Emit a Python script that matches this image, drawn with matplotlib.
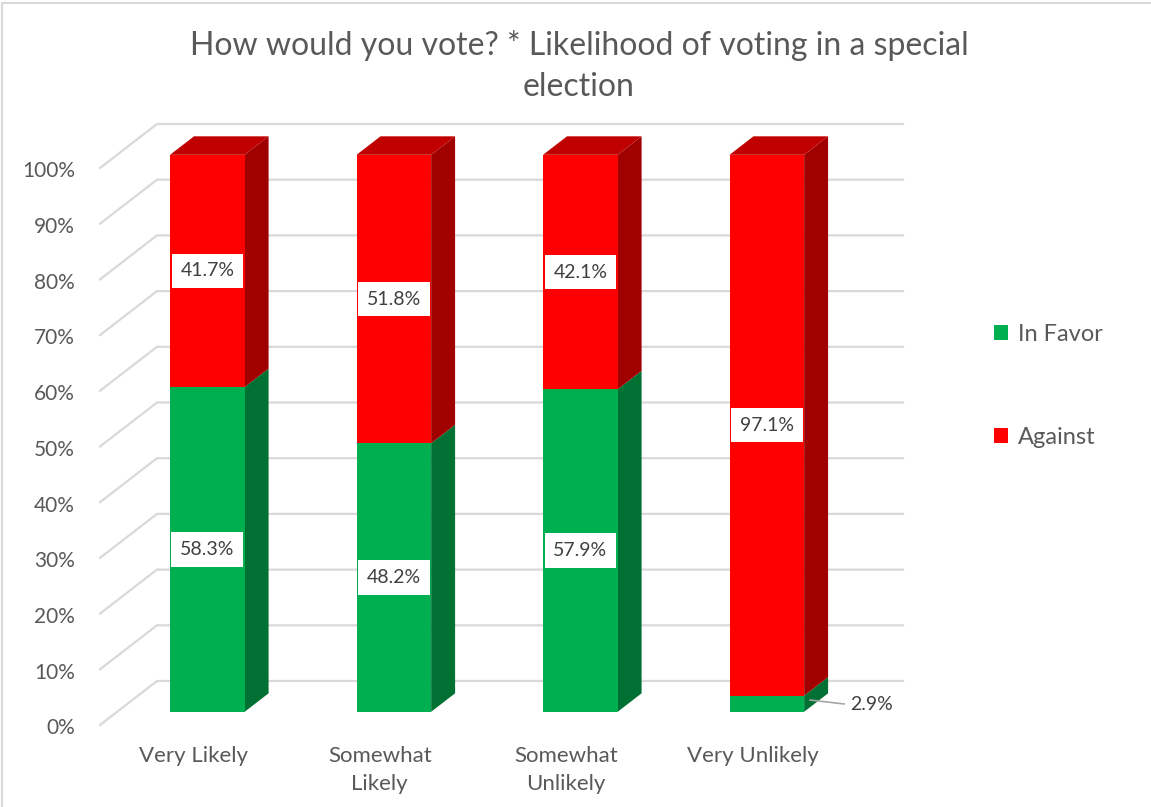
import matplotlib.pyplot as plt
from matplotlib.patches import Polygon, Patch, Rectangle

categories = ["Very Likely", "Somewhat\nLikely", "Somewhat\nUnlikely", "Very Unlikely"]
in_favor = [58.3, 48.2, 57.9, 2.9]
against = [41.7, 51.8, 42.1, 97.1]
series = [("In Favor", in_favor, "#00B050", "#00B050", "#007033"),
          ("Against", against, "#FF0000", "#C00000", "#A00000")]
ticks = list(range(0, 101, 10))

plt.rcParams['font.family'] = ['Lato', 'DejaVu Sans']
W, H = 1151, 807
fig = plt.figure(figsize=(W / 100, H / 100), dpi=100)
ax = fig.add_axes([0, 0, 1, 1])
ax.set_axis_off()

# pixel scales for the oblique "3D" look
px_cat = 186.5
px_pct = 5.57
x_left = -0.5 - 100 / px_cat
y_bot = -(H - 725) / px_pct
ax.set_xlim(x_left, x_left + W / px_cat)
ax.set_ylim(y_bot, y_bot + H / px_pct)
OX = 57 / px_cat
OY = 44 / px_pct


def proj(x, y, d):
    return (x + d * OX, y + d * OY)


grid_c = "#D9D9D9"
n = len(categories)
# back wall gridlines and side wall diagonals
for t in ticks:
    a = proj(-0.5, t, 0)
    b = proj(-0.5, t, 1)
    c = proj(n - 0.5, t, 1)
    ax.plot([a[0], b[0], c[0]], [a[1], b[1], c[1]], color=grid_c, lw=1.6,
            zorder=1, solid_joinstyle='miter')
    ax.text(a[0] - 25 / px_cat, t - 0.6, f"{t}%", ha="right", va="center",
            fontsize=15, color="#595959")

# bars
bw = 0.4
d0, d1 = 0.30, 0.72
shift = -3 / px_cat
for i in range(n):
    base = 0
    xl, xr = i - bw / 2 + shift, i + bw / 2 + shift
    for k, (name, vals, cf, ct, cs) in enumerate(series):
        v = vals[i]
        top = base + v
        z = 3 + k
        front = [proj(xl, base, d0), proj(xr, base, d0), proj(xr, top, d0), proj(xl, top, d0)]
        side = [proj(xr, base, d0), proj(xr, base, d1), proj(xr, top, d1), proj(xr, top, d0)]
        ax.add_patch(Polygon(side, closed=True, fc=cs, ec="none", zorder=z))
        ax.add_patch(Polygon(front, closed=True, fc=cf, ec="none", zorder=z))
        if k == len(series) - 1:
            tp = [proj(xl, top, d0), proj(xr, top, d0), proj(xr, top, d1), proj(xl, top, d1)]
            ax.add_patch(Polygon(tp, closed=True, fc=ct, ec="none", zorder=z))
        mid = base + v / 2
        lx, ly = proj(i + shift, mid, d0)
        if v < 8:
            sx, sy = proj(xr, mid, (d0 + d1) / 2)
            tx = sx + 28 / px_cat
            ax.plot([sx - 6 / px_cat, tx], [sy - 1.0, sy - 1.7], color="#A6A6A6", lw=1.2, zorder=8)
            ax.text(tx + 6 / px_cat, sy - 1.8, f"{v}%", ha="left", va="center",
                    fontsize=14, color="#404040", zorder=9)
        else:
            ax.text(lx, ly, f"{v}%", ha="center", va="center", fontsize=14,
                    color="#404040", zorder=9,
                    bbox=dict(boxstyle="square,pad=0.45", fc="white", ec="none"))
        base = top

# category labels
for i, c in enumerate(categories):
    ax.text(i, -3.8, c, ha="center", va="top", fontsize=16, color="#595959",
            linespacing=1.5)

ax.text((188 + 970) / 2 / px_cat + x_left, y_bot + (H - 66) / px_pct,
        "How would you vote? * Likelihood of voting in a special\nelection",
        ha="center", va="center", fontsize=23, color="#595959", linespacing=1.42)

handles = [Patch(fc=s[2], ec="none") for s in series]
fig.legend(handles, [s[0] for s in series], loc="center left",
           bbox_to_anchor=(973 / W, 1 - 386 / H), frameon=False, fontsize=17,
           labelcolor="#595959", handlelength=0.6, handleheight=0.6,
           handletextpad=0.4, labelspacing=3.45)

# chart area border
fig.patches.append(Rectangle((2 / W, -0.01), 1.02, 1 - 3 / H + 0.01, transform=fig.transFigure,
                             fill=False, ec="#D9D9D9", lw=1.5))

fig.savefig("out.png", dpi=100)
